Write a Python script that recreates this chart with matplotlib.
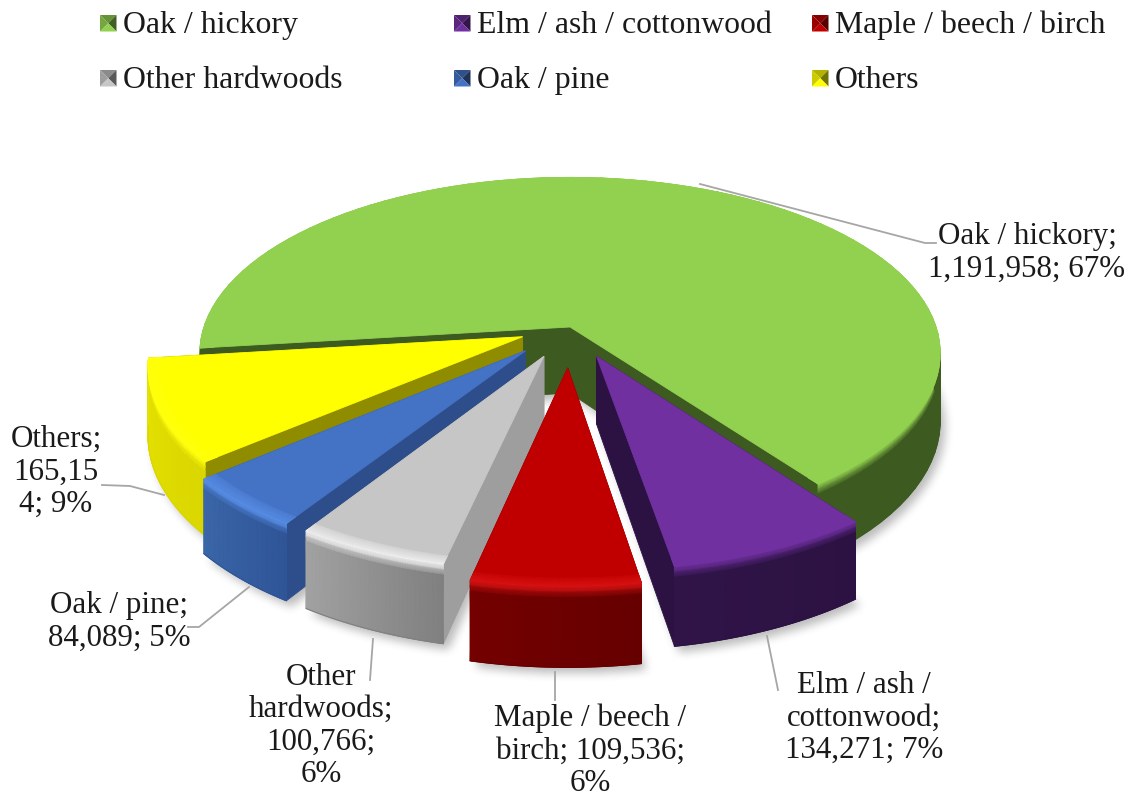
import numpy as np
import matplotlib
matplotlib.use('Agg')
import matplotlib.pyplot as plt
from matplotlib.colors import to_rgb
from matplotlib.path import Path

# data
names = ['Oak / hickory', 'Elm / ash / cottonwood', 'Maple / beech / birch',
         'Other hardwoods', 'Oak / pine', 'Others']
values = [1191958, 134271, 109536, 100766, 84089, 165154]

# chart label line breaks, as wrapped in the picture
label_texts = ['Oak / hickory;\n1,191,958; 67%',
               'Elm / ash /\ncottonwood;\n134,271; 7%',
               'Maple / beech /\nbirch; 109,536;\n6%',
               'Other\nhardwoods;\n100,766;\n6%',
               'Oak / pine;\n84,089; 5%',
               'Others;\n165,15\n4; 9%']

# styles
top_colors = ['#92D050', '#7030A0', '#C00000', '#C6C6C6', '#4472C4', '#FFFF00']
rim_colors = ['#92D050', '#7030A0', '#DC1414', '#F6F6F6', '#5C94EE', '#FFFF10']
wall_left = ['#3D5A20', '#301448', '#740000', '#A2A2A2', '#3A66A8', '#E6E300']
wall_right = ['#3D5A20', '#2C1242', '#660000', '#808080', '#2F5597', '#DAD600']
cut_colors = ['#3D5A20', '#2C1242', '#660000', '#9E9E9E', '#2E4E8B', '#8F8C00']
explode = [0.0, 0.18, 0.23, 0.18, 0.18, 0.14]
draw_order = [0, 5, 4, 3, 2, 1]

# fake 3d camera
cx, cy = 570, 327
rx, ry = 366, 172
depth = 66
persp = 0.15
green_end = 143.4  # clockwise from north, where the first slice ends


def project(x, y, z=0.0):
    x, y = np.asarray(x, float), np.asarray(y, float)
    s = 1 / (1 + persp * y)
    return cx + rx * x * s, cy - ry * y * s - depth * z * s


def mix(a, b, t):
    a, b = np.array(to_rgb(a)), np.array(to_rgb(b))
    return a + (b - a) * t


def slice_geometry():
    sweep = np.array(values) / sum(values) * 360
    geo = [(green_end - sweep[0], green_end)]
    a0 = green_end
    for w in sweep[1:]:
        geo.append((a0, a0 + w))
        a0 += w
    return geo


def offset(i, a0, a1):
    mid = np.radians((a0 + a1) / 2)
    return explode[i] * np.sin(mid), explode[i] * np.cos(mid)


def box_blur(img, size):
    kernel = np.ones(size) / size
    for _ in range(3):
        img = np.apply_along_axis(np.convolve, 0, img, kernel, mode='same')
        img = np.apply_along_axis(np.convolve, 1, img, kernel, mode='same')
    return img


def draw_shadow(ax, geo):
    gx, gy = np.meshgrid(np.arange(1134) + 0.5, np.arange(798) + 0.5)
    pts = np.c_[gx.ravel(), gy.ravel()]
    mask = np.zeros(gx.shape)
    for i, (a0, a1) in enumerate(geo):
        t = np.radians(np.linspace(a0, a1, 80))
        ox, oy = offset(i, a0, a1)
        sx, sy = project(np.r_[ox, ox + np.sin(t)], np.r_[oy, oy + np.cos(t)], -1.0)
        inside = Path(np.c_[sx + 5, sy + 6]).contains_points(pts)
        mask = np.maximum(mask, inside.reshape(gx.shape))
    mask = box_blur(mask, 9)
    rgba = np.zeros(gx.shape + (4,))
    rgba[..., 3] = mask * 0.27
    ax.imshow(rgba, extent=(0, 1134, 798, 0), aspect='auto', zorder=1,
              interpolation='nearest')
    ax.set_xlim(0, 1134)
    ax.set_ylim(798, 0)


def draw_slice(ax, i, a0, a1, z):
    ox, oy = offset(i, a0, a1)
    n = 90
    t = np.radians(np.linspace(a0, a1, n))
    ex, ey = ox + np.sin(t), oy + np.cos(t)

    # cut faces
    for k in (0, -1):
        px, py = zip(*[project(a, b, c) for a, b, c in
                       [(ox, oy, 0), (ex[k], ey[k], 0), (ex[k], ey[k], -1), (ox, oy, -1)]])
        ax.fill(px, py, facecolor=cut_colors[i], edgecolor=cut_colors[i], lw=0.6, zorder=z)

    # outer wall, shaded along the arc with a rim at the top
    bev = 0.14
    zs = np.array([0, -bev / 2, -bev, -1.0])
    mx = np.array([project(ex, ey, q)[0] for q in zs])
    my = np.array([project(ex, ey, q)[1] for q in zs])
    ramp = np.linspace(1, 0, n) if i else np.zeros(n)
    wall = np.array([mix(wall_left[i], wall_right[i], r) for r in ramp])
    rim = np.array(to_rgb(rim_colors[i]))
    cols = np.stack([np.tile(rim, (n, 1)), (rim + wall) / 2, wall, wall])
    ax.pcolormesh(mx, my, cols, shading='gouraud', zorder=z + 0.1)
    ax.plot(mx[-1], my[-1], color=to_rgb(wall_right[i]), lw=0.8, zorder=z + 0.1)

    # top face
    px, py = project(np.r_[ox, ex], np.r_[oy, ey])
    ax.fill(px, py, facecolor=top_colors[i], edgecolor=top_colors[i], lw=0.6, zorder=z + 0.2)
    # soft edge on the top face
    rr = np.array([0.965, 1.0])
    mx = np.array([project(ox + r * np.sin(t), oy + r * np.cos(t))[0] for r in rr])
    my = np.array([project(ox + r * np.sin(t), oy + r * np.cos(t))[1] for r in rr])
    inner = np.tile(np.array(to_rgb(top_colors[i])), (n, 1))
    cols = np.stack([inner, np.tile(rim, (n, 1))])
    ax.pcolormesh(mx, my, cols, shading='gouraud', zorder=z + 0.3)


fig = plt.figure(figsize=(11.34, 7.98), dpi=100)
ax = fig.add_axes([0, 0, 1, 1])
ax.set_xlim(0, 1134)
ax.set_ylim(798, 0)
ax.axis('off')

geo = slice_geometry()
draw_shadow(ax, geo)
for order, i in enumerate(draw_order):
    draw_slice(ax, i, geo[i][0], geo[i][1], 2 + order)

# leader lines
leaders = [([700, 925, 936], [184, 243, 243]),
           ([767, 778], [636, 690]),
           ([555, 555], [672, 700]),
           ([373, 370], [639, 680]),
           ([249, 199, 188], [587, 627, 627]),
           ([102, 130, 164], [485, 486, 495])]
for lx, ly in leaders:
    ax.plot(lx, ly, color='#A6A6A6', lw=1.3, zorder=20)

font = 'Liberation Serif'
label_pos = [(1027, 253), (864, 718), (590, 751), (321, 726), (119, 622), (56, 472)]
for txt, (lx, ly) in zip(label_texts, label_pos):
    ax.text(lx, ly, txt, ha='center', va='center', family=font, fontsize=22.3,
            color='#1a1a1a', linespacing=1.16, zorder=21)

# legend
leg_x = [100, 454, 812, 100, 454, 812]
leg_y = [15, 15, 15, 70, 70, 70]
sz = 16.5
for i, (lx, ly) in enumerate(zip(leg_x, leg_y)):
    mx, my = lx + sz / 2, ly + sz / 2
    base = top_colors[i]
    ax.fill([lx, lx + sz, mx], [ly, ly, my], color=mix(base, '#000000', 0.3), lw=0, zorder=20)
    ax.fill([lx, lx, mx], [ly, ly + sz, my], color=mix(base, '#000000', 0.2), lw=0, zorder=20)
    ax.fill([lx + sz, lx + sz, mx], [ly, ly + sz, my], color=mix(base, '#000000', 0.55), lw=0, zorder=20)
    ax.fill([lx, lx + sz, mx], [ly + sz, ly + sz, my], color=base, lw=0, zorder=20)
    ax.text(lx + 23, my + 2, names[i], ha='left', va='center', family=font,
            fontsize=22.9, color='#1a1a1a', zorder=21)

fig.savefig('out.png', dpi=100)
